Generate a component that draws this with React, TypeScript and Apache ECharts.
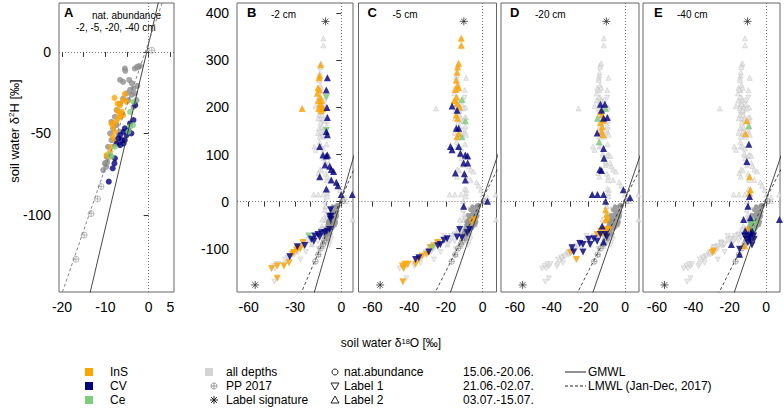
import React, { useEffect, useRef } from "react";
import * as echarts from "echarts";

type P = [number, number];

// ---------- Panel A: natural abundance (δ18O, δ2H) ----------
const A_ALL: P[] = [
  [-5.5, -10.2], [-5.4, -11.6], [-3.2, -10.2], [-2.6, -9.2], [-2.0, -8.6], [-6.6, -17.2],
  [-5.9, -18.4], [-4.5, -17.2], [-3.9, -19.2], [-2.6, -20.8], [-3.5, -22.3], [-4.3, -23.3],
  [-5.1, -25.4], [-3.9, -26.4], [-3.2, -25.4], [-5.9, -28.6], [-4.7, -29.6], [-6.6, -31.7],
  [-7.4, -35.7], [-6.2, -37.8], [-7.8, -39.8], [-8.6, -42.9], [-7.4, -44.9], [-8.2, -47.0],
  [-8.9, -50.0], [-8.6, -54.1], [-9.4, -58.2], [-9.7, -64.3], [-10.1, -68.4], [-9.6, -67.4],
  [-10.5, -72.5], [-9.8, -70.4], [-7.0, -56.2], [-6.6, -49.0], [-3.5, -33.8], [-2.8, -29.6],
];
const A_INS: P[] = [
  [-7.9, -28.2], [-5.5, -25.9], [-5.9, -29.6], [-6.6, -32.7], [-7.2, -35.7], [-6.8, -37.8],
  [-6.2, -36.8], [-7.1, -40.8], [-6.5, -39.8], [-7.5, -42.9], [-5.9, -38.8], [-8.6, -43.9],
  [-8.2, -46.0], [-7.8, -49.0], [-8.3, -52.1], [-7.8, -54.1], [-8.6, -58.2], [-8.9, -61.2],
  [-9.7, -63.3], [-9.1, -64.3], [-7.2, -31.7], [-5.1, -30.6],
];
const A_CV: P[] = [
  [-3.1, -32.7], [-3.5, -41.8], [-4.3, -43.9], [-5.5, -46.9], [-4.7, -47.9], [-5.8, -49.0],
  [-6.6, -51.0], [-5.1, -51.0], [-6.2, -54.1], [-7.0, -53.1], [-5.8, -56.2], [-6.6, -57.2],
  [-7.4, -56.2], [-7.8, -65.3], [-7.9, -68.4], [-8.3, -71.4], [-9.2, -79.6], [-4.0, -50.0],
  [-5.5, -54.1],
];
const A_CE: P[] = [
  [-3.5, -30.6], [-4.3, -36.8], [-3.6, -44.9], [-4.7, -49.0], [-4.3, -45.9], [-7.8, -58.2],
  [-8.9, -63.3], [-8.6, -64.3],
];
const PP_2017: P[] = [
  [0.7, 1.0], [-2.5, -9.2], [-7.6, -44.5], [-9.8, -68.4], [-11.0, -82.6], [-11.8, -90.2],
  [-13.3, -99.2], [-14.9, -112.4], [-16.8, -127.2],
];

// ---------- Panel B: -2 cm ----------
const B_INS_UP: P[] = [
  [-13.4, 291], [-14.0, 268], [-14.4, 263], [-15.1, 242], [-14.0, 237], [-15.5, 230],
  [-13.6, 222], [-14.8, 215], [-12.9, 215], [-14.0, 207], [-12.5, 203], [-14.6, 198],
  [-11.9, 198], [-12.9, 193], [-25.4, 198],
];
const B_INS_DN: P[] = [
  [-45.2, -142], [-41.5, -163], [-41.5, -137], [-37.2, -137], [-33.8, -130], [-31.6, -112],
  [-29.0, -103], [-26.5, -100], [-24.8, -87], [-30.9, -108], [-27.8, -98],
];
const B_CV_UP: P[] = [
  [-9.0, 263], [-9.7, 237], [-9.3, 200], [-9.0, 179], [-9.0, 142], [-9.7, 149], [-14.0, 117],
  [-11.9, 99], [-9.7, 97], [-9.0, 99], [-10.5, 78], [-7.5, 75], [-6.5, 68], [-5.0, 64],
  [-14.0, 53], [-6.5, 46], [-3.2, 41], [-2.2, 34], [-9.7, 27], [0.0, 15], [7.1, 15],
];
const B_CV_DN: P[] = [
  [-6.9, -17], [-7.5, -31], [-6.9, -38], [-7.5, -59], [-9.3, -63], [-10.8, -66], [-12.9, -66],
  [-15.1, -70], [-17.2, -73], [-19.4, -80], [-14.0, -75], [-17.8, -84], [-23.7, -93],
  [-28.5, -96], [-33.4, -117], [-6.5, -31],
];
const B_CE_UP: P[] = [];
const B_CE_DN: P[] = [[-9.7, 221], [-9.7, 151], [-21.1, -73]];

// ---------- Panel C: -5 cm ----------
const C_INS_UP: P[] = [
  [-11.6, 347], [-11.6, 332], [-13.0, 294], [-13.6, 286], [-13.9, 275], [-14.3, 258],
  [-13.6, 247], [-14.8, 238], [-13.0, 242], [-14.3, 222], [-15.4, 215], [-13.9, 209],
  [-12.5, 201], [-14.3, 184], [-13.6, 177], [-13.0, 145], [-13.9, 138],
];
const C_INS_DN: P[] = [
  [-43.4, -170], [-43.7, -137], [-42.3, -133], [-40.7, -133], [-43.0, -142], [-36.5, -133],
  [-34.7, -123], [-32.9, -116], [-30.5, -112], [-28.4, -98], [-26.6, -94], [-24.4, -87],
  [-4.5, -38], [-5.8, -44],
];
const C_CV_UP: P[] = [
  [-16.6, 203], [-13.9, 194], [-13.0, 156], [-14.3, 156], [-17.5, 117], [-16.6, 110],
  [-13.0, 117], [-12.1, 103], [-9.4, 99], [-8.1, 97], [-10.3, 82], [-8.1, 82], [-14.8, 61],
  [-9.9, 59], [-9.4, 46], [-10.3, -10], [2.7, 1],
];
const C_CV_DN: P[] = [
  [-7.1, -59], [-8.4, -66], [-12.5, -59], [-11.2, -77], [-13.9, -75], [-19.3, -79],
  [-21.1, -82], [-23.0, -91], [-24.4, -94], [-29.3, -107], [-34.7, -119], [-36.5, -123],
];
const C_CE_UP: P[] = [[-11.2, 217], [-9.4, 172], [-11.2, 138]];
const C_CE_DN: P[] = [[-27.5, -98]];

// ---------- Panel D: -20 cm ----------
const D_INS_UP: P[] = [
  [-13.4, 191], [-12.5, 184], [-11.9, 173], [-13.4, 168], [-12.5, 159], [-12.8, 149],
  [-11.9, 142], [-10.6, -17], [-10.0, -27], [-9.7, -34], [-10.6, -39], [-11.7, -66],
];
const D_INS_DN: P[] = [
  [-26.5, -123], [-29.8, -108], [-15.2, -70], [-13.4, -63], [-10.6, -59], [-9.3, -63], [-8.8, -58],
];
const D_CV_UP: P[] = [
  [-13.4, 207], [-11.0, 207], [-12.8, 194], [-9.7, 179], [-11.7, 177], [-15.2, 146],
  [-11.7, 113], [-11.5, 92], [-13.7, 68], [-12.8, 66], [-17.9, 15], [-15.0, 15], [-11.7, 15],
  [-10.6, 1], [-0.9, 25], [2.7, 9], [-12.5, -52], [-11.7, -86],
];
const D_CV_DN: P[] = [
  [-28.9, -98], [-28.0, -107], [-24.7, -89], [-22.9, -107], [-22.9, -91], [-19.8, -80],
  [-19.0, -91], [-17.0, -79], [-15.2, -84], [-10.6, -70], [-10.0, -75], [-13.4, -70],
];
const D_CE_UP: P[] = [[-10.6, 198], [-15.0, 177], [-14.1, 127]];
const D_CE_DN: P[] = [];

// ---------- Panel E: -40 cm ----------
const E_INS_UP: P[] = [
  [-10.6, 172], [-11.3, 145], [-9.1, 53], [-8.7, 25], [-9.1, 18], [-10.0, -56], [-11.8, -94],
];
const E_INS_DN: P[] = [[-28.8, -105], [-29.5, -108]];
const E_CV_UP: P[] = [
  [-9.5, 122], [-10.6, 85], [-9.1, 11], [-10.0, -10], [-12.4, -38], [-8.7, -34], [-19.1, -91],
  [-14.6, -112], [7.3, -38], [-7.6, -63], [-8.4, -66], [-9.8, -70], [-11.5, -62],
];
const E_CV_DN: P[] = [
  [-14.6, -101], [-10.9, -80], [-9.1, -77], [-6.9, -73], [-11.8, -73], [-10.0, -87],
  [-8.4, -84], [-6.6, -80], [-7.8, -92],
];
const E_CE_UP: P[] = [[-9.5, 161], [-6.9, -38], [-8.4, -45], [-5.8, -42], [-6.9, -56], [-7.6, -59]];
const E_CE_DN: P[] = [];

// label signature (asterisks)
const SIGNATURE: P[] = [[-55.8, -177], [-10.2, 383]];

// meteoric water lines (slope, intercept) as drawn
const GMWL = { slope: 11.3, intercept: 5 };
const LMWL = { slope: 7.7, intercept: 6 };

// tick values / labels
const A_X_TICKS = [-20, -15, -10, -5, 0, 5];
const A_X_LABELS = [-20, -10, 0, 5];
const A_Y_TICKS = [-100, -50, 0];
const BE_X_TICKS = [-60, -50, -40, -30, -20, -10, 0];
const B_X_LABELS = [-60, -30, 0];
const CE_X_LABELS = [-60, -40, -20, 0];
const BE_Y_TICKS = [-100, 0, 100, 200, 300, 400];

const PANEL_LETTERS = ["A", "B", "C", "D", "E"];
const PANEL_DEPTHS = ["", "-2 cm", "-5 cm", "-20 cm", "-40 cm"];
const A_NOTE = ["nat. abundance", "-2, -5, -20, -40 cm"];

const LEG_GROUPS = ["InS", "CV", "Ce"];
const LEG_TYPES = ["all depths", "PP 2017", "Label signature"];
const LEG_SHAPES = ["nat.abundance", "Label 1", "Label 2"];
const LEG_DATES = ["15.06.-20.06.", "21.06.-02.07.", "03.07.-15.07."];
const LEG_LINES = ["GMWL", "LMWL (Jan-Dec, 2017)"];

// ---------- styling ----------
const FONT = "'Liberation Sans', Arial, Helvetica, sans-serif";
const C_INS = "#FFA500";
const C_CV = "#000080";
const C_CE = "#7CCD7C";
const C_ALL = "#D3D3D3";
const C_NAT = "#9A9A9A";

const GRIDS = [
  { left: 59, width: 115, xMin: -20.7, xMax: 5.85, yMin: -147.3, yMax: 30 },
  { left: 237, width: 116, xMin: -67.6, xMax: 7.6, yMin: -192, yMax: 422 },
  { left: 358.5, width: 138, xMin: -67.6, xMax: 7.6, yMin: -192, yMax: 422 },
  { left: 501, width: 138, xMin: -67.6, xMax: 7.6, yMin: -192, yMax: 422 },
  { left: 643, width: 137, xMin: -67.6, xMax: 7.6, yMin: -192, yMax: 422 },
];
const GRID_TOP = 3;
const GRID_H = 289;

const ASTERISK = "path://M10 0V20M0 10H20M2.93 2.93L17.07 17.07M17.07 2.93L2.93 17.07";
const OPLUS = "path://M0 10A10 10 0 1 1 20 10A10 10 0 1 1 0 10ZM10 0V20M0 10H20";

const PANELS = [
  null,
  { insUp: B_INS_UP, insDn: B_INS_DN, cvUp: B_CV_UP, cvDn: B_CV_DN, ceUp: B_CE_UP, ceDn: B_CE_DN },
  { insUp: C_INS_UP, insDn: C_INS_DN, cvUp: C_CV_UP, cvDn: C_CV_DN, ceUp: C_CE_UP, ceDn: C_CE_DN },
  { insUp: D_INS_UP, insDn: D_INS_DN, cvUp: D_CV_UP, cvDn: D_CV_DN, ceUp: D_CE_UP, ceDn: D_CE_DN },
  { insUp: E_INS_UP, insDn: E_INS_DN, cvUp: E_CV_UP, cvDn: E_CV_DN, ceUp: E_CE_UP, ceDn: E_CE_DN },
];

function mwl(l: { slope: number; intercept: number }, x0: number, x1: number): P[] {
  return [
    [x0, l.slope * x0 + l.intercept],
    [x1, l.slope * x1 + l.intercept],
  ];
}

function scatter(gi: number, data: P[], symbol: string, size: number, itemStyle: any, rotate = 0): any {
  return {
    type: "scatter",
    xAxisIndex: gi,
    yAxisIndex: gi,
    data,
    symbol,
    symbolSize: size,
    symbolRotate: rotate,
    itemStyle,
    silent: true,
  };
}

function buildOption(): any {
  const allUp: P[] = [];
  const allDn: P[] = [];
  PANELS.forEach((p) => {
    if (!p) return;
    allUp.push(...p.insUp, ...p.cvUp, ...p.ceUp);
    allDn.push(...p.insDn, ...p.cvDn, ...p.ceDn);
  });
  const natAll: P[] = [...A_ALL, ...A_INS, ...A_CV, ...A_CE];

  const series: any[] = [];
  GRIDS.forEach((g, gi) => {
    const dashedColor = gi === 0 ? "#777" : "#333";
    series.push({
      type: "line",
      xAxisIndex: gi,
      yAxisIndex: gi,
      data: mwl(GMWL, g.xMin - 5, g.xMax + 5),
      symbol: "none",
      silent: true,
      clip: true,
      lineStyle: { color: "#333", width: 0.9 },
      z: 3,
      markLine: {
        silent: true,
        symbol: ["none", "none"],
        label: { show: false },
        lineStyle: { color: "#555", type: [1, 2], width: 0.8 },
        data: [{ xAxis: 0 }, { yAxis: 0 }],
      },
    });
    series.push({
      type: "line",
      xAxisIndex: gi,
      yAxisIndex: gi,
      data: mwl(LMWL, g.xMin - 5, g.xMax + 5),
      symbol: "none",
      silent: true,
      clip: true,
      lineStyle: { color: dashedColor, width: 0.9, type: [3, 2.5] },
      z: 3,
    });
    if (gi === 0) {
      series.push(scatter(0, PP_2017, OPLUS, 6, { color: "rgba(0,0,0,0)", borderColor: "#9a9a9a", borderWidth: 0.8 }));
      series.push(scatter(0, A_ALL, "circle", 6, { color: "#8f8f8f" }));
      series.push(scatter(0, A_INS, "circle", 6, { color: C_INS }));
      series.push(scatter(0, A_CV, "circle", 6, { color: C_CV }));
      series.push(scatter(0, A_CE, "circle", 6, { color: C_CE }));
      return;
    }
    const p = PANELS[gi]!;
    series.push(scatter(gi, allUp, "triangle", 5, { color: "#e6e6e6", borderColor: "#c2c2c2", borderWidth: 0.6 }));
    series.push(scatter(gi, allDn, "triangle", 5, { color: "#e6e6e6", borderColor: "#c2c2c2", borderWidth: 0.6 }, 180));
    series.push(scatter(gi, natAll, "circle", 4.5, { color: C_NAT }));
    series.push(scatter(gi, PP_2017, OPLUS, 5.5, { color: "rgba(0,0,0,0)", borderColor: "#888", borderWidth: 0.8 }));
    series.push(scatter(gi, p.insUp, "triangle", 7, { color: C_INS }));
    series.push(scatter(gi, p.insDn, "triangle", 7, { color: C_INS }, 180));
    series.push(scatter(gi, p.ceUp, "triangle", 7, { color: C_CE }));
    series.push(scatter(gi, p.ceDn, "triangle", 7, { color: C_CE }, 180));
    series.push(scatter(gi, p.cvUp, "triangle", 7, { color: C_CV }));
    series.push(scatter(gi, p.cvDn, "triangle", 7, { color: C_CV }, 180));
    series.push(scatter(gi, SIGNATURE, ASTERISK, 8, { color: "rgba(0,0,0,0)", borderColor: "#333", borderWidth: 1 }));
  });

  const txt = (text: string, x: number, y: number, size: number, extra: any = {}) => ({
    type: "text",
    x,
    y,
    silent: true,
    style: {
      text,
      fontSize: size,
      fontFamily: FONT,
      fill: "#000",
      align: "left",
      verticalAlign: "middle",
      textAlign: "left",
      textVerticalAlign: "middle",
      ...extra,
    },
  });

  const graphics: any[] = [];
  const letterOffsets = [5, 10, 9, 9, 11];
  GRIDS.forEach((g, i) => {
    graphics.push(txt(PANEL_LETTERS[i], g.left + letterOffsets[i], 12, 13, { fontWeight: "bold" }));
    if (PANEL_DEPTHS[i]) graphics.push(txt(PANEL_DEPTHS[i], g.left + 34, 14, 10));
  });
  graphics.push(txt(A_NOTE[0], 92, 15, 10));
  graphics.push(txt(A_NOTE[1], 76, 27, 10));

  graphics.push({
    type: "text",
    x: 14,
    y: 131,
    rotation: Math.PI / 2,
    silent: true,
    style: {
      text: "soil water δ{sup|2}H [‰]",
      fontSize: 13,
      fontFamily: FONT,
      fill: "#000",
      align: "center",
      verticalAlign: "middle",
      textAlign: "center",
      textVerticalAlign: "middle",
      rich: { sup: { fontSize: 8, verticalAlign: "top", fontFamily: FONT, fill: "#000" } },
    },
  });
  graphics.push({
    type: "text",
    x: 391,
    y: 343,
    silent: true,
    style: {
      text: "soil water δ{sup|18}O [‰]",
      fontSize: 12,
      fontFamily: FONT,
      fill: "#000",
      align: "center",
      verticalAlign: "middle",
      textAlign: "center",
      textVerticalAlign: "middle",
      rich: { sup: { fontSize: 7.5, verticalAlign: "top", fontFamily: FONT, fill: "#000" } },
    },
  });

  const LY = [372, 386, 400];
  const groupColors = [C_INS, C_CV, C_CE];
  LY.forEach((y, i) => {
    graphics.push({ type: "rect", silent: true, shape: { x: 85, y: y - 4, width: 8, height: 8 }, style: { fill: groupColors[i] } });
    graphics.push(txt(LEG_GROUPS[i], 110, y, 12));
    graphics.push(txt(LEG_TYPES[i], 226, y, 12));
    graphics.push(txt(LEG_SHAPES[i], 344, y, 12));
    graphics.push(txt(LEG_DATES[i], 463, y, 12));
  });
  graphics.push({ type: "rect", silent: true, shape: { x: 205, y: LY[0] - 4, width: 8, height: 8 }, style: { fill: C_ALL } });
  graphics.push({ type: "circle", silent: true, shape: { cx: 214, cy: LY[1], r: 3 }, style: { fill: "none", stroke: "#888", lineWidth: 0.8 } });
  graphics.push({ type: "line", silent: true, shape: { x1: 211, y1: LY[1], x2: 217, y2: LY[1] }, style: { stroke: "#888", lineWidth: 0.8 } });
  graphics.push({ type: "line", silent: true, shape: { x1: 214, y1: LY[1] - 3, x2: 214, y2: LY[1] + 3 }, style: { stroke: "#888", lineWidth: 0.8 } });
  [[-4, 0, 4, 0], [0, -4, 0, 4], [-2.9, -2.9, 2.9, 2.9], [2.9, -2.9, -2.9, 2.9]].forEach(([a, b, c, d]) =>
    graphics.push({ type: "line", silent: true, shape: { x1: 214 + a, y1: LY[2] + b, x2: 214 + c, y2: LY[2] + d }, style: { stroke: "#222", lineWidth: 1 } })
  );
  graphics.push({ type: "circle", silent: true, shape: { cx: 335, cy: LY[0], r: 3 }, style: { fill: "none", stroke: "#222", lineWidth: 1 } });
  graphics.push({ type: "polygon", silent: true, shape: { points: [[331, LY[1] - 3], [339, LY[1] - 3], [335, LY[1] + 4]] }, style: { fill: "none", stroke: "#222", lineWidth: 1 } });
  graphics.push({ type: "polygon", silent: true, shape: { points: [[331, LY[2] + 3], [339, LY[2] + 3], [335, LY[2] - 4]] }, style: { fill: "none", stroke: "#222", lineWidth: 1 } });
  graphics.push({ type: "line", silent: true, shape: { x1: 565, y1: LY[0], x2: 586, y2: LY[0] }, style: { stroke: "#222", lineWidth: 1 } });
  graphics.push({ type: "line", silent: true, shape: { x1: 565, y1: LY[1], x2: 586, y2: LY[1] }, style: { stroke: "#222", lineWidth: 1, lineDash: [3, 2] } });
  graphics.push(txt(LEG_LINES[0], 588, LY[0], 12));
  graphics.push(txt(LEG_LINES[1], 588, LY[1], 12));

  return {
    animation: false,
    backgroundColor: "#fff",
    textStyle: { fontFamily: FONT },
    grid: GRIDS.map((g) => ({
      left: g.left,
      top: GRID_TOP,
      width: g.width,
      height: GRID_H,
      show: true,
      borderColor: "#666",
      borderWidth: 1,
      backgroundColor: "transparent",
    })),
    xAxis: GRIDS.map((g, i) => ({
      gridIndex: i,
      type: "value",
      min: g.xMin,
      max: g.xMax,
      axisLine: { show: false },
      splitLine: { show: false },
      axisTick: { show: true, length: 5, lineStyle: { color: "#333", width: 1 }, customValues: i === 0 ? A_X_TICKS : BE_X_TICKS },
      axisLabel: {
        show: true,
        customValues: i === 0 ? A_X_LABELS : i === 1 ? B_X_LABELS : CE_X_LABELS,
        fontSize: 14,
        color: "#000",
        margin: 8,
        fontFamily: FONT,
      },
    })),
    yAxis: GRIDS.map((g, i) => ({
      gridIndex: i,
      type: "value",
      min: g.yMin,
      max: g.yMax,
      show: i < 2,
      axisLine: { show: false },
      splitLine: { show: false },
      axisTick: { show: i < 2, length: 5, lineStyle: { color: "#333", width: 1 }, customValues: i === 0 ? A_Y_TICKS : BE_Y_TICKS },
      axisLabel: {
        show: i < 2,
        customValues: i === 0 ? A_Y_TICKS : BE_Y_TICKS,
        fontSize: 14,
        color: "#000",
        margin: 8,
        fontFamily: FONT,
      },
    })),
    series,
    graphic: { elements: graphics },
  };
}

export default function App() {
  const ref = useRef<HTMLDivElement>(null);
  useEffect(() => {
    const chart = echarts.init(ref.current!, null, { renderer: "svg" });
    chart.setOption(buildOption());
    return () => chart.dispose();
  }, []);
  return <div ref={ref} style={{ position: "absolute", left: 0, top: 0, width: 784, height: 408 }} />;
}
